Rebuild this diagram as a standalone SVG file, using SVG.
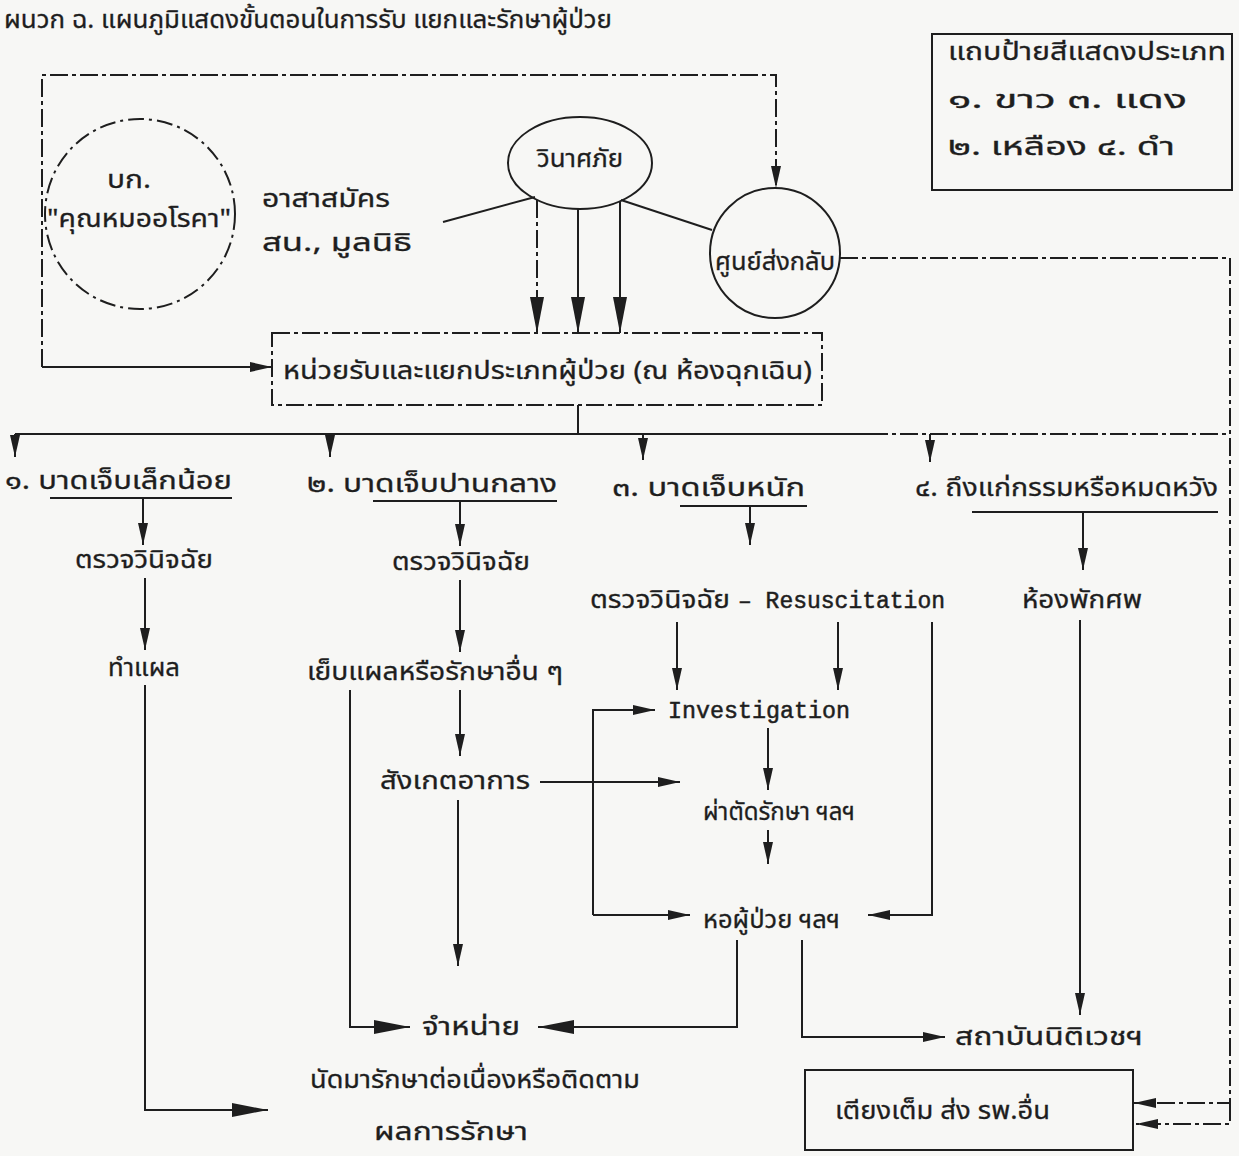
<svg xmlns="http://www.w3.org/2000/svg" width="1239" height="1156" viewBox="0 0 1239 1156">
<defs>
<style>
text{font-family:"Noto Sans Thai","Noto Sans","DejaVu Sans",sans-serif;font-size:25px;fill:#1e1e1e;stroke:#1e1e1e;stroke-width:0.3}
.en{font-family:"Liberation Mono","DejaVu Sans Mono",monospace;font-size:23px;stroke-width:0.5}
.ln{fill:none;stroke:#1e1e1e;stroke-width:2}
.ds{stroke-dasharray:18 4 4 4}
.c{text-anchor:middle}
</style>
<marker id="ah" viewBox="0 0 22 10" markerWidth="22" markerHeight="10" refX="22" refY="5" orient="auto" markerUnits="userSpaceOnUse"><path d="M0,0 L22,5 L0,10 z" fill="#1e1e1e"/></marker>
<marker id="big" viewBox="0 0 36 14" markerWidth="36" markerHeight="14" refX="36" refY="7" orient="auto" markerUnits="userSpaceOnUse"><path d="M0,0 L36,7 L0,14 z" fill="#1e1e1e"/></marker>
</defs>
<rect width="1239" height="1156" fill="#f7f7f5"/>
<text x="4" y="28" font-size="21" textLength="608" lengthAdjust="spacingAndGlyphs">ผนวก ฉ.  แผนภูมิแสดงขั้นตอนในการรับ แยกและรักษาผู้ป่วย</text>

<g id="legend">
<rect x="932" y="34" width="300" height="156" class="ln"/>
<text x="948" y="60" textLength="278" lengthAdjust="spacingAndGlyphs">แถบป้ายสีแสดงประเภท</text>
<text x="948" y="108" textLength="239" lengthAdjust="spacingAndGlyphs">๑. ขาว    ๓. แดง</text>
<text x="948" y="155" textLength="227" lengthAdjust="spacingAndGlyphs">๒. เหลือง ๔. ดำ</text>
</g>

<g id="connectors">
<polyline points="42,367 42,75 776,75 776,188" class="ln ds" marker-end="url(#ah)"/>
<line x1="42" y1="367" x2="272" y2="367" class="ln" marker-end="url(#ah)"/>
<line x1="535" y1="197" x2="443" y2="222" class="ln"/>
<line x1="621" y1="200" x2="712" y2="230" class="ln"/>
<line x1="537" y1="200" x2="537" y2="333" class="ln ds" marker-end="url(#big)"/>
<line x1="578" y1="208" x2="578" y2="333" class="ln" marker-end="url(#big)"/>
<line x1="620" y1="202" x2="620" y2="333" class="ln" marker-end="url(#big)"/>
<polyline points="840,258 1230,258 1230,1103 1134,1103" class="ln ds" marker-end="url(#ah)"/>
<polyline points="1230,1103 1230,1124 1136,1124" class="ln ds" marker-end="url(#ah)"/>
<line x1="578" y1="405" x2="578" y2="434" class="ln"/>
<line x1="15" y1="434" x2="870" y2="434" class="ln"/>
<line x1="870" y1="434" x2="1230" y2="434" class="ln ds"/>
<line x1="15" y1="434" x2="15" y2="457" class="ln" marker-end="url(#ah)"/>
<line x1="330" y1="434" x2="330" y2="457" class="ln" marker-end="url(#ah)"/>
<line x1="643" y1="434" x2="643" y2="460" class="ln" marker-end="url(#ah)"/>
<line x1="930" y1="434" x2="930" y2="462" class="ln" marker-end="url(#ah)"/>
<line x1="143" y1="498" x2="143" y2="545" class="ln" marker-end="url(#ah)"/>
<line x1="145" y1="578" x2="145" y2="650" class="ln" marker-end="url(#ah)"/>
<polyline points="145,685 145,1110 268,1110" class="ln" marker-end="url(#big)"/>
<line x1="460" y1="501" x2="460" y2="546" class="ln" marker-end="url(#ah)"/>
<line x1="460" y1="580" x2="460" y2="652" class="ln" marker-end="url(#ah)"/>
<line x1="460" y1="690" x2="460" y2="756" class="ln" marker-end="url(#ah)"/>
<line x1="540" y1="782" x2="680" y2="782" class="ln" marker-end="url(#ah)"/>
<line x1="458" y1="800" x2="458" y2="966" class="ln" marker-end="url(#ah)"/>
<polyline points="350,690 350,1027 410,1027" class="ln" marker-end="url(#big)"/>
<line x1="750" y1="506" x2="750" y2="545" class="ln" marker-end="url(#ah)"/>
<line x1="677" y1="622" x2="677" y2="690" class="ln" marker-end="url(#ah)"/>
<line x1="838" y1="622" x2="838" y2="690" class="ln" marker-end="url(#ah)"/>
<polyline points="593,915 593,710 655,710" class="ln" marker-end="url(#ah)"/>
<line x1="593" y1="915" x2="690" y2="915" class="ln" marker-end="url(#ah)"/>
<line x1="768" y1="728" x2="768" y2="790" class="ln" marker-end="url(#ah)"/>
<line x1="768" y1="830" x2="768" y2="864" class="ln" marker-end="url(#ah)"/>
<polyline points="932,622 932,915 868,915" class="ln" marker-end="url(#ah)"/>
<polyline points="737,940 737,1027 538,1027" class="ln" marker-end="url(#big)"/>
<polyline points="802,940 802,1037 945,1037" class="ln" marker-end="url(#ah)"/>
<line x1="1083" y1="512" x2="1083" y2="570" class="ln" marker-end="url(#ah)"/>
<line x1="1080" y1="620" x2="1080" y2="1015" class="ln" marker-end="url(#ah)"/>
</g>

<g id="hq">
<circle cx="140" cy="214" r="95" class="ln" stroke-dasharray="16 5 3 5"/>
<text x="129" y="188" class="c" textLength="44" lengthAdjust="spacingAndGlyphs">บก.</text>
<text x="139" y="227" class="c" textLength="184" lengthAdjust="spacingAndGlyphs">"คุณหมออโรคา"</text>
</g>
<g id="volunteer">
<text x="262" y="207" textLength="128" lengthAdjust="spacingAndGlyphs">อาสาสมัคร</text>
<text x="262" y="251" textLength="150" lengthAdjust="spacingAndGlyphs">สน., มูลนิธิ</text>
</g>
<g id="disaster">
<ellipse cx="580" cy="163" rx="72" ry="46" class="ln"/>
<text x="580" y="167" class="c" font-size="27" textLength="86" lengthAdjust="spacingAndGlyphs">วินาศภัย</text>
</g>
<g id="evac">
<circle cx="775" cy="253" r="65" class="ln"/>
<text x="775" y="270" class="c" textLength="120" lengthAdjust="spacingAndGlyphs">ศูนย์ส่งกลับ</text>
</g>
<g id="triage">
<rect x="272" y="333" width="550" height="72" class="ln ds"/>
<text x="283" y="379" textLength="529" lengthAdjust="spacingAndGlyphs">หน่วยรับและแยกประเภทผู้ป่วย (ณ ห้องฉุกเฉิน)</text>
</g>
<g id="cat1">
<text x="5" y="489" textLength="227" lengthAdjust="spacingAndGlyphs">๑. บาดเจ็บเล็กน้อย</text>
<line x1="50" y1="498" x2="232" y2="498" class="ln"/>
</g>
<g id="cat2">
<text x="307" y="492" textLength="250" lengthAdjust="spacingAndGlyphs">๒. บาดเจ็บปานกลาง</text>
<line x1="373" y1="501" x2="557" y2="501" class="ln"/>
</g>
<g id="cat3">
<text x="612" y="496" textLength="193" lengthAdjust="spacingAndGlyphs">๓. บาดเจ็บหนัก</text>
<line x1="680" y1="506" x2="807" y2="506" class="ln"/>
</g>
<g id="cat4">
<text x="915" y="496" textLength="303" lengthAdjust="spacingAndGlyphs">๔. ถึงแก่กรรมหรือหมดหวัง</text>
<line x1="972" y1="512" x2="1218" y2="512" class="ln"/>
</g>
<g id="dx1"><text x="75" y="568" textLength="138" lengthAdjust="spacingAndGlyphs">ตรวจวินิจฉัย</text></g>
<g id="wound"><text x="108" y="676" textLength="72" lengthAdjust="spacingAndGlyphs">ทำแผล</text></g>
<g id="dx2"><text x="392" y="570" textLength="138" lengthAdjust="spacingAndGlyphs">ตรวจวินิจฉัย</text></g>
<g id="suture"><text x="307" y="680" textLength="256" lengthAdjust="spacingAndGlyphs">เย็บแผลหรือรักษาอื่น ๆ</text></g>
<g id="observe"><text x="380" y="789" textLength="150" lengthAdjust="spacingAndGlyphs">สังเกตอาการ</text></g>
<g id="dx3">
<text x="590" y="608" textLength="140" lengthAdjust="spacingAndGlyphs">ตรวจวินิจฉัย</text>
<text x="738" y="608" class="en" textLength="207" lengthAdjust="spacingAndGlyphs">– Resuscitation</text>
</g>
<g id="investigation"><text x="668" y="718" class="en" textLength="182" lengthAdjust="spacingAndGlyphs">Investigation</text></g>
<g id="surgery"><text x="703" y="820" textLength="152" lengthAdjust="spacingAndGlyphs">ผ่าตัดรักษา ฯลฯ</text></g>
<g id="ward"><text x="703" y="928" textLength="137" lengthAdjust="spacingAndGlyphs">หอผู้ป่วย ฯลฯ</text></g>
<g id="morgue"><text x="1022" y="608" textLength="120" lengthAdjust="spacingAndGlyphs">ห้องพักศพ</text></g>
<g id="forensic"><text x="955" y="1045" textLength="188" lengthAdjust="spacingAndGlyphs">สถาบันนิติเวชฯ</text></g>
<g id="discharge">
<text x="422" y="1035" textLength="98" lengthAdjust="spacingAndGlyphs">จำหน่าย</text>
<text x="310" y="1088" textLength="330" lengthAdjust="spacingAndGlyphs">นัดมารักษาต่อเนื่องหรือติดตาม</text>
<text x="374" y="1140" textLength="154" lengthAdjust="spacingAndGlyphs">ผลการรักษา</text>
</g>
<g id="refer">
<rect x="805" y="1070" width="328" height="80" class="ln"/>
<text x="835" y="1119" textLength="215" lengthAdjust="spacingAndGlyphs">เตียงเต็ม ส่ง รพ.อื่น</text>
</g>
</svg>
